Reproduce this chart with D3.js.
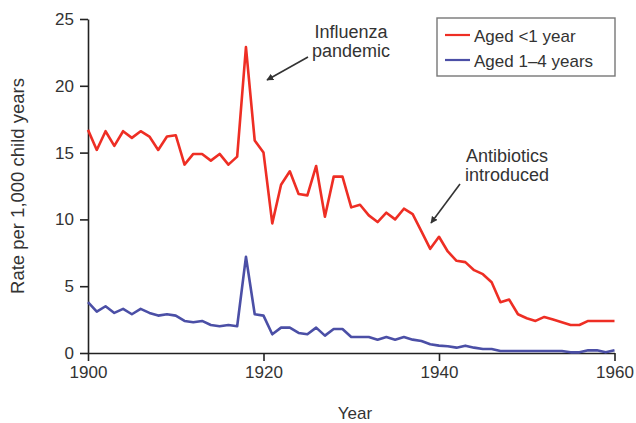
<!DOCTYPE html>
<html>
<head>
<meta charset="utf-8">
<script src="https://cdn.jsdelivr.net/npm/d3@7"></script>
<style>
  body { margin: 0; background: #fff; }
  svg { font-family: "Liberation Sans", Arial, sans-serif; }
  .axis path, .axis line { stroke: #222; stroke-width: 1.6; }
  .axis text { font-size: 17px; fill: #333; }
  .series { fill: none; stroke-width: 2.6; stroke-linejoin: round; }
  .note { font-size: 18px; fill: #333; }
</style>
</head>
<body>
<div id="chart"></div>
<script>
// Data.
var years = d3.range(1900, 1961);
var under1 = [
  16.7, 15.2, 16.6, 15.5, 16.6, 16.1, 16.6, 16.2, 15.2, 16.2,
  16.3, 14.1, 14.9, 14.9, 14.4, 14.9, 14.1, 14.7, 22.9, 15.9,
  15.0, 9.7, 12.6, 13.6, 11.9, 11.8, 14.0, 10.2, 13.2, 13.2,
  10.9, 11.1, 10.3, 9.8, 10.5, 10.0, 10.8, 10.4, 9.1, 7.8,
  8.7, 7.6, 6.9, 6.8, 6.2, 5.9, 5.3, 3.8, 4.0, 2.9,
  2.6, 2.4, 2.7, 2.5, 2.3, 2.1, 2.1, 2.4, 2.4, 2.4,
  2.4
];
var aged1to4 = [
  3.8, 3.1, 3.5, 3.0, 3.3, 2.9, 3.3, 3.0, 2.8, 2.9,
  2.8, 2.4, 2.3, 2.4, 2.1, 2.0, 2.1, 2.0, 7.2, 2.9,
  2.8, 1.4, 1.9, 1.9, 1.5, 1.4, 1.9, 1.3, 1.8, 1.8,
  1.2, 1.2, 1.2, 1.0, 1.2, 1.0, 1.2, 1.0, 0.9, 0.65,
  0.55, 0.5, 0.4, 0.55, 0.4, 0.3, 0.3, 0.15, 0.15, 0.15,
  0.15, 0.15, 0.15, 0.15, 0.15, 0.05, 0.05, 0.2, 0.2, 0.05,
  0.2
];
var xTicks = [1900, 1920, 1940, 1960];
var yTicks = [0, 5, 10, 15, 20, 25];
var seriesNames = ['Aged <1 year', 'Aged 1\u20134 years'];
var seriesColors = ['#ee2e24', '#4b4fa6'];

var width = 636, height = 423;
var margin = {left: 88, right: 21.5, top: 19, bottom: 70};

var svg = d3.select('#chart').append('svg')
    .attr('width', width)
    .attr('height', height);

var x = d3.scaleLinear().domain([1900, 1960])
    .range([margin.left, width - margin.right]);
var y = d3.scaleLinear().domain([0, 25])
    .range([height - margin.bottom, margin.top]);

// Axes
svg.append('g')
    .attr('class', 'axis x')
    .attr('transform', 'translate(0,' + y(0) + ')')
    .call(d3.axisBottom(x).tickValues(xTicks).tickFormat(d3.format('d'))
        .tickSizeInner(8).tickSizeOuter(0).tickPadding(5));
svg.append('g')
    .attr('class', 'axis y')
    .attr('transform', 'translate(' + x(1900) + ',0)')
    .call(d3.axisLeft(y).tickValues(yTicks)
        .tickSizeInner(8).tickSizeOuter(0).tickPadding(6));

// Axis titles
svg.append('text')
    .attr('class', 'note')
    .attr('x', 355).attr('y', 419)
    .attr('text-anchor', 'middle')
    .style('font-size', '17px')
    .text('Year');
svg.append('text')
    .attr('class', 'note')
    .attr('transform', 'translate(24,186) rotate(-90)')
    .attr('text-anchor', 'middle')
    .style('font-size', '18.5px')
    .text('Rate per 1,000 child years');

// Series
var line = d3.line()
    .x(function(d, i) { return x(years[i]); })
    .y(function(d) { return y(d); });
svg.append('path').attr('class', 'series')
    .attr('stroke', seriesColors[1]).attr('d', line(aged1to4));
svg.append('path').attr('class', 'series')
    .attr('stroke', seriesColors[0]).attr('d', line(under1));

// Arrow marker
svg.append('defs').append('marker')
    .attr('id', 'arrow')
    .attr('viewBox', '0 0 10 10')
    .attr('refX', 9).attr('refY', 5)
    .attr('markerWidth', 7).attr('markerHeight', 7)
    .attr('markerUnits', 'userSpaceOnUse')
    .attr('orient', 'auto')
    .append('path')
    .attr('d', 'M0,0 L10,5 L0,10 z')
    .attr('fill', '#333');

// Annotations
svg.append('text').attr('class', 'note')
    .attr('x', 351).attr('y', 38).attr('text-anchor', 'middle').text('Influenza');
svg.append('text').attr('class', 'note')
    .attr('x', 351).attr('y', 57).attr('text-anchor', 'middle').text('pandemic');
svg.append('line')
    .attr('x1', 308).attr('y1', 57).attr('x2', 267).attr('y2', 80)
    .attr('stroke', '#333').attr('stroke-width', 1.6)
    .attr('marker-end', 'url(#arrow)');

svg.append('text').attr('class', 'note')
    .attr('x', 507).attr('y', 162).attr('text-anchor', 'middle').text('Antibiotics');
svg.append('text').attr('class', 'note')
    .attr('x', 507).attr('y', 181).attr('text-anchor', 'middle').text('introduced');
svg.append('line')
    .attr('x1', 460).attr('y1', 184).attr('x2', 431).attr('y2', 223)
    .attr('stroke', '#333').attr('stroke-width', 1.6)
    .attr('marker-end', 'url(#arrow)');

// Legend
var legend = svg.append('g').attr('transform', 'translate(437,18)');
legend.append('rect')
    .attr('width', 178).attr('height', 58)
    .attr('fill', '#fff').attr('stroke', '#777').attr('stroke-width', 1.4);
seriesNames.forEach(function(name, i) {
    var g = legend.append('g').attr('transform', 'translate(0,' + (17 + i * 25) + ')');
    g.append('line')
        .attr('x1', 8).attr('x2', 33).attr('y1', 0).attr('y2', 0)
        .attr('stroke', seriesColors[i]).attr('stroke-width', 2.2);
    g.append('text').attr('class', 'note')
        .attr('x', 37).attr('y', 6.5)
        .style('font-size', '17px')
        .text(name);
});
</script>
</body>
</html>
